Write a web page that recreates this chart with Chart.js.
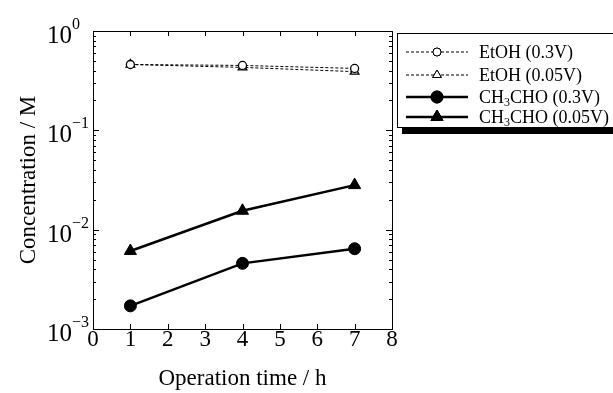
<!DOCTYPE html>
<html>
<head>
<meta charset="utf-8">
<script src="https://cdn.jsdelivr.net/npm/chart.js@4.4.0/dist/chart.umd.min.js"></script>
<style>
  html, body { margin: 0; padding: 0; background: #fff; }
  #wrap { width: 613px; height: 393px; }
</style>
</head>
<body>
<div id="wrap"><canvas id="chart" width="613" height="393"></canvas></div>
<script>
// data
const times = [1, 4, 7];
const etoh03 = [0.46, 0.45, 0.42];
const etoh005 = [0.46, 0.43, 0.39];
const acet03 = [0.00171, 0.00458, 0.00643];
const acet005 = [0.0061, 0.0155, 0.0281];

const xTicks = [0, 1, 2, 3, 4, 5, 6, 7, 8];
const yExps = [0, -1, -2, -3];

const serif = '"Liberation Serif", "Times New Roman", serif';

function pts(vals) {
  return times.map((t, i) => ({ x: t, y: vals[i] }));
}

// axes frame, ticks, labels and legend are drawn by hand
const framePlugin = {
  id: 'frame',
  afterDraw(chart) {
    const ctx = chart.ctx;
    const a = chart.chartArea;
    const xs = chart.scales.x, ys = chart.scales.y;
    ctx.save();
    ctx.strokeStyle = '#000';
    ctx.lineWidth = 1;
    ctx.strokeRect(a.left + 0.5, a.top + 0.5, a.right - a.left, a.bottom - a.top);

    // x ticks
    ctx.beginPath();
    xTicks.forEach(v => {
      const px = Math.round(xs.getPixelForValue(v)) + 0.5;
      ctx.moveTo(px, a.bottom); ctx.lineTo(px, a.bottom - 5);
      ctx.moveTo(px, a.top); ctx.lineTo(px, a.top + 5);
    });
    // y major + minor ticks
    for (let e = -3; e <= 0; e++) {
      for (let m = 1; m <= 9; m++) {
        const v = m * Math.pow(10, e);
        if (v > 1.0001) continue;
        const py = Math.round(ys.getPixelForValue(v)) + 0.5;
        const len = m === 1 ? 6 : 3;
        ctx.moveTo(a.left, py); ctx.lineTo(a.left + len, py);
        ctx.moveTo(a.right, py); ctx.lineTo(a.right - len, py);
      }
    }
    ctx.stroke();

    ctx.fillStyle = '#000';
    // x tick labels
    ctx.font = '23px ' + serif;
    ctx.textAlign = 'center';
    ctx.textBaseline = 'alphabetic';
    xTicks.forEach(v => {
      ctx.fillText(String(v), xs.getPixelForValue(v), a.bottom + 17);
    });
    // y tick labels 10^n
    yExps.forEach(e => {
      const py = ys.getPixelForValue(Math.pow(10, e));
      ctx.font = '25px ' + serif;
      ctx.textAlign = 'right';
      ctx.fillText('10', 72, py + 12);
      ctx.font = '16px ' + serif;
      ctx.textAlign = 'left';
      ctx.fillText(e === 0 ? '0' : '\u2212' + (-e), 72, py - 2);
    });

    // axis titles
    ctx.font = '23px ' + serif;
    ctx.textAlign = 'center';
    ctx.fillText('Operation time / h', (a.left + a.right) / 2, 385);
    ctx.save();
    ctx.translate(35, (a.top + a.bottom) / 2);
    ctx.rotate(-Math.PI / 2);
    ctx.fillText('Concentration / M', 0, 0);
    ctx.restore();

    // legend box with shadow
    const lx = 397, ly = 33, lw = 230, lh = 94;
    ctx.fillRect(lx + 5, ly + lh, lw, 7);
    ctx.fillStyle = '#fff';
    ctx.fillRect(lx, ly, lw, lh);
    ctx.strokeRect(lx + 0.5, ly + 0.5, lw, lh);
    ctx.fillStyle = '#000';

    const rows = [
      { ds: 0, y: 52, name: ['EtOH (0.3V)'] },
      { ds: 1, y: 75, name: ['EtOH (0.05V)'] },
      { ds: 2, y: 97, name: ['CH', '3', 'CHO (0.3V)'] },
      { ds: 3, y: 117, name: ['CH', '3', 'CHO (0.05V)'] }
    ];
    rows.forEach(r => {
      const d = chart.data.datasets[r.ds];
      ctx.save();
      ctx.lineWidth = d.borderWidth;
      ctx.setLineDash(d.borderDash || []);
      ctx.beginPath();
      ctx.moveTo(406, r.y); ctx.lineTo(468, r.y);
      ctx.stroke();
      ctx.restore();
      ctx.save();
      ctx.setLineDash([]);
      Chart.helpers.drawPoint(ctx, {
        pointStyle: d.pointStyle, radius: d.pointRadius,
        borderWidth: d.pointBorderWidth || 1, rotation: 0
      }, 437, r.y);
      ctx.fillStyle = d.pointBackgroundColor;
      ctx.strokeStyle = '#000';
      ctx.fill();
      ctx.stroke();
      ctx.restore();

      let tx = 479;
      ctx.textAlign = 'left';
      r.name.forEach((part, i) => {
        if (i === 1) {
          ctx.font = '12px ' + serif;
          ctx.fillText(part, tx, r.y + 9);
        } else {
          ctx.font = '18px ' + serif;
          ctx.fillText(part, tx, r.y + 6);
        }
        tx += ctx.measureText(part).width;
      });
    });
    ctx.restore();
  }
};

new Chart(document.getElementById('chart'), {
  type: 'line',
  data: {
    datasets: [
      {
        label: 'EtOH (0.3V)', data: pts(etoh03),
        borderColor: '#000', borderWidth: 1, borderDash: [3, 2],
        pointStyle: 'circle', pointRadius: 4, pointBorderWidth: 1.3,
        pointBackgroundColor: '#fff', pointBorderColor: '#000'
      },
      {
        label: 'EtOH (0.05V)', data: pts(etoh005),
        borderColor: '#000', borderWidth: 1, borderDash: [3, 2],
        pointStyle: 'triangle', pointRadius: 5, pointBorderWidth: 1.3,
        pointBackgroundColor: '#fff', pointBorderColor: '#000'
      },
      {
        label: 'CH3CHO (0.3V)', data: pts(acet03),
        borderColor: '#000', borderWidth: 2.5,
        pointStyle: 'circle', pointRadius: 6, pointBorderWidth: 1,
        pointBackgroundColor: '#000', pointBorderColor: '#000'
      },
      {
        label: 'CH3CHO (0.05V)', data: pts(acet005),
        borderColor: '#000', borderWidth: 2.5,
        pointStyle: 'triangle', pointRadius: 7, pointBorderWidth: 1,
        pointBackgroundColor: '#000', pointBorderColor: '#000'
      }
    ]
  },
  plugins: [framePlugin],
  options: {
    responsive: false,
    animation: false,
    layout: { padding: { left: 93, right: 221, top: 31, bottom: 64 } },
    plugins: { legend: { display: false }, tooltip: { enabled: false } },
    scales: {
      x: { type: 'linear', min: 0, max: 8, display: false },
      y: { type: 'logarithmic', min: 0.001, max: 1, display: false }
    }
  }
});
</script>
</body>
</html>
